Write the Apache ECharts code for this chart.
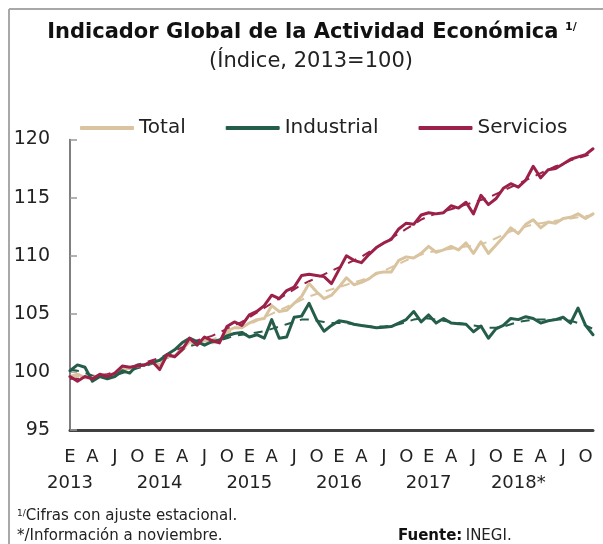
<!DOCTYPE html>
<html>
<head>
<meta charset="utf-8">
<script src="https://cdn.jsdelivr.net/npm/echarts@6/dist/echarts.min.js"></script>
<style>
  html, body { margin: 0; padding: 0; background: #fff; }
  #chart { width: 603px; height: 544px; }
</style>
</head>
<body>
<div id="chart"></div>
<script>
// datos mensuales, ene 2013 - nov 2018 (indice 2013=100, cifras desestacionalizadas)
var years = ['2013', '2014', '2015', '2016', '2017', '2018*'];
var monthLetters = ['E', 'F', 'M', 'A', 'M', 'J', 'J', 'A', 'S', 'O', 'N', 'D'];
var yTicks = [95, 100, 105, 110, 115, 120];

var total = [
  99.6, 99.8, 99.5, 99.5, 99.7, 99.6, 99.8, 100.3, 100.3, 100.5, 100.6, 100.8,
  100.6, 101.3, 101.4, 101.9, 102.6, 102.4, 102.7, 102.5, 102.6, 103.5, 103.8, 103.8,
  104.2, 104.5, 104.6, 105.7, 105.2, 105.3, 105.9, 106.5, 107.6, 106.9, 106.3, 106.6,
  107.3, 108.1, 107.5, 107.7, 108.0, 108.5, 108.6, 108.6, 109.6, 109.9, 109.8, 110.2,
  110.8, 110.3, 110.5, 110.8, 110.5, 111.1, 110.2, 111.2, 110.2, 110.9, 111.6, 112.4,
  111.9, 112.7, 113.1, 112.4, 112.9, 112.8, 113.2, 113.3, 113.6, 113.2, 113.6
];
var industrial = [
  100.1, 100.6, 100.4, 99.2, 99.6, 99.4, 99.6, 100.1, 99.9, 100.6, 100.6, 100.8,
  101.0, 101.5, 101.9, 102.5, 102.9, 102.6, 102.3, 102.6, 102.75, 103.1, 103.3, 103.4,
  103.0, 103.2, 102.9, 104.5, 102.9, 103.0, 104.7, 104.8, 105.9, 104.5, 103.5, 104.0,
  104.4, 104.3, 104.1, 104.0, 103.9, 103.8, 103.85, 103.9, 104.2, 104.5, 105.2, 104.3,
  104.9, 104.2, 104.6, 104.2, 104.15, 104.1, 103.45, 103.95, 102.9, 103.7, 104.0, 104.6,
  104.5, 104.75, 104.6, 104.2, 104.4, 104.5, 104.7, 104.2, 105.5, 104.0, 103.2
];
var servicios = [
  99.6, 99.2, 99.6, 99.4, 99.8, 99.6, 99.9, 100.5, 100.4, 100.5, 100.6, 100.9,
  100.2, 101.5, 101.3, 101.9, 102.9, 102.3, 103.0, 102.7, 102.5, 103.9, 104.3, 104.0,
  104.9, 105.2, 105.7, 106.6, 106.3, 107.0, 107.3, 108.3, 108.4, 108.3, 108.2, 107.6,
  108.8, 110.0, 109.6, 109.4, 110.1, 110.7, 111.1, 111.4, 112.3, 112.8, 112.7, 113.5,
  113.7, 113.6, 113.7, 114.3, 114.1, 114.6, 113.6, 115.2, 114.4, 114.9, 115.8, 116.2,
  115.9, 116.5, 117.7, 116.7, 117.4, 117.5, 117.9, 118.3, 118.5, 118.7, 119.2
];

// series de tendencia (lineas punteadas)
var totalTend = [
  99.6, 99.6, 99.6, 99.6, 99.7, 99.8, 99.9, 100.1, 100.3, 100.5, 100.6, 100.8,
  101.0, 101.3, 101.6, 101.9, 102.2, 102.4, 102.6, 102.8, 103.0, 103.3, 103.6, 103.9,
  104.1, 104.4, 104.7, 105.0, 105.3, 105.6, 105.9, 106.2, 106.5, 106.7, 106.9, 107.1,
  107.3, 107.5, 107.7, 107.9, 108.1, 108.4, 108.7, 109.0, 109.3, 109.6, 109.9, 110.1,
  110.3, 110.4, 110.5, 110.6, 110.7, 110.8, 110.9, 111.0, 111.2, 111.5, 111.8, 112.1,
  112.3, 112.5, 112.7, 112.8, 112.9, 113.0, 113.1, 113.2, 113.3, 113.4, 113.5
];
var industrialTend = [
  100.2, 100.1, 99.9, 99.7, 99.6, 99.6, 99.7, 99.9, 100.1, 100.3, 100.5, 100.7,
  100.9, 101.2, 101.5, 101.9, 102.2, 102.4, 102.5, 102.6, 102.7, 102.9, 103.1, 103.2,
  103.3, 103.4, 103.5, 103.7, 103.9, 104.1, 104.3, 104.5, 104.5, 104.4, 104.3, 104.2,
  104.2, 104.2, 104.1, 104.0, 103.9, 103.9, 103.9, 104.0, 104.1, 104.3, 104.5, 104.6,
  104.6, 104.5, 104.4, 104.3, 104.2, 104.1, 104.0, 103.9, 103.8, 103.8, 103.9, 104.1,
  104.3, 104.4, 104.5, 104.5, 104.5, 104.5, 104.5, 104.4, 104.2, 104.0, 103.7
];
var serviciosTend = [
  99.4, 99.4, 99.5, 99.6, 99.7, 99.8, 100.0, 100.2, 100.4, 100.6, 100.8, 101.0,
  101.2, 101.5, 101.8, 102.1, 102.4, 102.7, 102.9, 103.1, 103.4, 103.7, 104.0, 104.3,
  104.7, 105.1, 105.5, 105.9, 106.3, 106.7, 107.1, 107.5, 107.8, 108.1, 108.4, 108.7,
  109.0, 109.3, 109.6, 109.9, 110.3, 110.7, 111.1, 111.5, 111.9, 112.3, 112.7, 113.1,
  113.4, 113.6, 113.8, 114.0, 114.2, 114.4, 114.6, 114.8, 115.0, 115.3, 115.6, 115.9,
  116.2, 116.5, 116.8, 117.1, 117.4, 117.7, 117.9, 118.2, 118.4, 118.6, 118.8
];

var colors = { total: '#D9C49F', industrial: '#245E4B', servicios: '#9C2148' };
var FONT = 'DejaVu Sans';

// categorias: un elemento por mes
var categories = [];
for (var i = 0; i < total.length; i++) {
  categories.push(years[Math.floor(i / 12)] + '|' + monthLetters[i % 12]);
}

var chart = echarts.init(document.getElementById('chart'), null, { renderer: 'canvas' });

function lineSeries(name, data, color, dashed) {
  return {
    name: name,
    type: 'line',
    data: data,
    symbol: 'none',
    smooth: false,
    animation: false,
    z: dashed ? 1 : 2,
    lineStyle: dashed
      ? { color: color, width: 2, type: [9, 7] }
      : { color: color, width: 3, join: 'round', cap: 'round' },
    itemStyle: { color: color }
  };
}

chart.setOption({
  animation: false,
  textStyle: { fontFamily: FONT },
  grid: { left: 70, right: 10, top: 139.5, bottom: 114, containLabel: false },
  legend: {
    left: 75,
    top: 113,
    icon: 'roundRect',
    itemWidth: 54,
    itemHeight: 4,
    itemGap: 40,
    textStyle: { fontFamily: FONT, fontSize: 20, color: '#222' },
    data: ['Total', 'Industrial', 'Servicios']
  },
  xAxis: [{
    // letras de los meses
    type: 'category',
    data: categories,
    boundaryGap: false,
    axisLine: { lineStyle: { color: '#404040', width: 3 } },
    axisTick: { show: false },
    axisLabel: {
      interval: 2,
      showMinLabel: true,
      margin: 18,
      fontFamily: FONT,
      fontSize: 18,
      color: '#222',
      formatter: function (value) { return value.split('|')[1]; }
    }
  }, {
    // años
    type: 'category',
    data: categories,
    position: 'bottom',
    boundaryGap: false,
    axisLine: { show: false },
    axisTick: { show: false },
    axisLabel: {
      interval: 11,
      showMinLabel: true,
      margin: 44,
      fontFamily: FONT,
      fontSize: 18,
      color: '#222',
      formatter: function (value) { return value.split('|')[0]; }
    }
  }],
  yAxis: {
    type: 'value',
    min: yTicks[0],
    max: yTicks[yTicks.length - 1],
    interval: 5,
    axisLine: { show: true, lineStyle: { color: '#555', width: 1.5 } },
    axisTick: { show: true, inside: true, length: 7, lineStyle: { color: '#999', width: 1.5 } },
    axisLabel: { margin: 20, fontFamily: FONT, fontSize: 19, color: '#222' },
    splitLine: { show: false }
  },
  series: [
    lineSeries('Total tendencia', totalTend, colors.total, true),
    lineSeries('Industrial tendencia', industrialTend, colors.industrial, true),
    lineSeries('Servicios tendencia', serviciosTend, colors.servicios, true),
    lineSeries('Total', total, colors.total),
    lineSeries('Industrial', industrial, colors.industrial),
    lineSeries('Servicios', servicios, colors.servicios)
  ],
  graphic: [
    // marco
    { type: 'line', shape: { x1: 9, y1: 9, x2: 603, y2: 9 }, style: { stroke: '#A8A8A8', lineWidth: 2 } },
    { type: 'line', shape: { x1: 9, y1: 9, x2: 9, y2: 544 }, style: { stroke: '#A8A8A8', lineWidth: 2 } },
    {
      type: 'text', x: 312, y: 22,
      style: {
        text: '{t|Indicador Global de la Actividad Económica}  {s|1/}',
        align: 'center',
        rich: {
          t: { fontFamily: FONT, fontSize: 21, fontWeight: 'bold', fill: '#111' },
          s: { fontFamily: FONT, fontSize: 11, fontWeight: 'bold', fill: '#111', verticalAlign: 'top' }
        }
      }
    },
    {
      type: 'text', x: 311, y: 51,
      style: { text: '(Índice, 2013=100)', fontFamily: FONT, fontSize: 21, fill: '#222', align: 'center' }
    },
    {
      type: 'text', x: 17, y: 509,
      style: {
        text: '{s|1/}{n|Cifras con ajuste estacional.}',
        rich: {
          s: { fontFamily: FONT, fontSize: 9, fill: '#222', verticalAlign: 'top' },
          n: { fontFamily: FONT, fontSize: 15, fill: '#222' }
        }
      }
    },
    {
      type: 'text', x: 17, y: 529,
      style: { text: '*/Información a noviembre.', fontFamily: FONT, fontSize: 15, fill: '#222' }
    },
    {
      type: 'text', x: 398, y: 529,
      style: {
        text: '{b|Fuente:} {n|INEGI.}',
        rich: {
          b: { fontFamily: FONT, fontSize: 15, fontWeight: 'bold', fill: '#111' },
          n: { fontFamily: FONT, fontSize: 15, fill: '#222' }
        }
      }
    }
  ]
});
</script>
</body>
</html>
